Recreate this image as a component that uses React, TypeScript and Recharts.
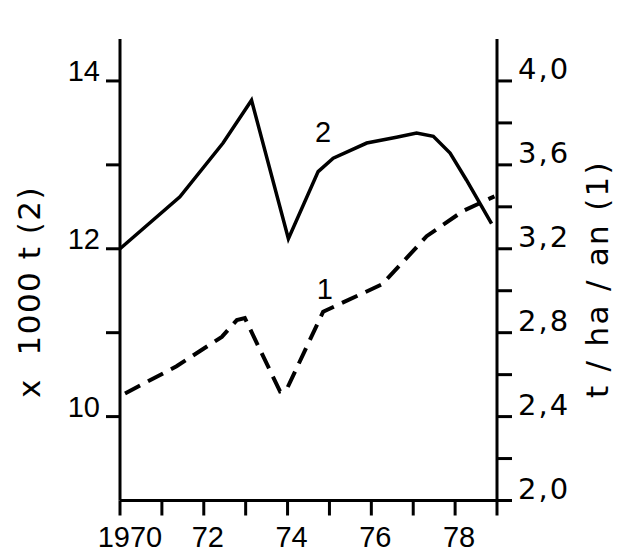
import { LineChart, Line, XAxis, YAxis, ReferenceDot } from 'recharts';

// curve 2 : production, x 1000 t (left axis)
const years2 = [1970, 1971.43, 1972.46, 1973.14, 1974.02, 1974.73, 1975.09, 1975.89, 1976.6, 1977.08, 1977.48, 1977.88, 1978.27, 1978.87];
const tonnes2 = [12.0, 12.62, 13.26, 13.77, 12.12, 12.92, 13.08, 13.26, 13.33, 13.38, 13.34, 13.14, 12.82, 12.3];

// curve 1 : yield, t / ha / an (right axis)
const years1 = [1970.12, 1971.35, 1972.43, 1972.79, 1972.98, 1973.82, 1973.98, 1974.85, 1976.25, 1977.0, 1977.32, 1978.19, 1978.94];
const yield1 = [2.51, 2.64, 2.78, 2.86, 2.87, 2.52, 2.53, 2.9, 3.03, 3.19, 3.26, 3.38, 3.45];

const yearTicks = [1970, 1971, 1972, 1973, 1974, 1975, 1976, 1977, 1978, 1979];
const leftTicks = [10, 11, 12, 13, 14];
const rightTicks = [2.0, 2.2, 2.4, 2.6, 2.8, 3.0, 3.2, 3.4, 3.6, 3.8, 4.0];

const solidData = years2.map((year, i) => ({ year, tonnes: tonnes2[i] }));
const dashedData = years1.map((year, i) => ({ year, rdt: yield1[i] }));

const txt = { fontFamily: 'Liberation Sans', fontSize: 29, fill: '#000' };
const wide = { fontFamily: 'DejaVu Sans', fontSize: 29, fill: '#000' };
const title = { fontFamily: 'DejaVu Sans', fontSize: 31, fill: '#000' };

const LeftTick = (props: any) => {
  const { x, y, payload } = props;
  if (payload.value % 2 !== 0) return <g />;
  return (
    <text x={x} y={y} textAnchor="end" {...txt}>
      {payload.value}
    </text>
  );
};

const RightTick = (props: any) => {
  const { x, y, payload } = props;
  if (Math.round(payload.value * 10) % 4 !== 0) return <g />;
  return (
    <text x={x} y={y} dy={-2} textAnchor="start" letterSpacing={2} {...wide}>
      {payload.value.toFixed(1).replace('.', ',')}
    </text>
  );
};

const YearTick = (props: any) => {
  const { x, y, payload } = props;
  const v = payload.value;
  if (v % 2 !== 0 || v > 1978) return <g />;
  return (
    <text x={x} y={y} dx={v === 1970 ? 10 : 4} dy={31} textAnchor="middle" {...txt}>
      {v === 1970 ? '1970' : String(v).slice(2)}
    </text>
  );
};

const CurveLabel = (text: string) => (props: any) => (
  <text x={props.cx} y={props.cy} textAnchor="middle" dominantBaseline="central" {...txt}>
    {text}
  </text>
);

const axisStroke = { stroke: '#000', strokeWidth: 3 };

export default function App() {
  return (
    <div style={{ position: 'fixed', left: 0, top: 0, width: 617, height: 553, background: '#fff' }}>
      <LineChart width={617} height={553} margin={{ top: 39, right: 0, bottom: 0, left: 0 }}>
        <XAxis
          dataKey="year"
          type="number"
          domain={[1970, 1979]}
          ticks={yearTicks}
          allowDataOverflow
          height={52.5}
          tickSize={15}
          tickMargin={0}
          axisLine={axisStroke}
          tickLine={axisStroke}
          tick={YearTick}
        />
        <YAxis
          yAxisId="left"
          orientation="left"
          type="number"
          domain={[9, 14.5]}
          ticks={leftTicks}
          allowDataOverflow
          width={120}
          tickSize={14}
          tickMargin={6}
          axisLine={axisStroke}
          tickLine={axisStroke}
          tick={LeftTick}
        />
        <YAxis
          yAxisId="right"
          orientation="right"
          type="number"
          domain={[2.0, 4.2]}
          ticks={rightTicks}
          allowDataOverflow
          width={120}
          tickSize={15}
          tickMargin={6}
          axisLine={axisStroke}
          tickLine={axisStroke}
          tick={RightTick}
        />
        <Line
          yAxisId="left"
          data={solidData}
          dataKey="tonnes"
          type="linear"
          stroke="#000"
          strokeWidth={3.5}
          dot={false}
          isAnimationActive={false}
        />
        <Line
          yAxisId="right"
          data={dashedData}
          dataKey="rdt"
          type="linear"
          stroke="#000"
          strokeWidth={4}
          strokeDasharray="17 9"
          dot={false}
          isAnimationActive={false}
        />
        <ReferenceDot yAxisId="left" x={1974.85} y={13.39} r={0} shape={CurveLabel('2')} />
        <ReferenceDot yAxisId="right" x={1974.89} y={3.01} r={0} shape={CurveLabel('1')} />
      </LineChart>
      <svg width={617} height={553} style={{ position: 'absolute', left: 0, top: 0, pointerEvents: 'none' }}>
        <text
          x={29}
          y={292}
          transform="rotate(-90 29 292)"
          textAnchor="middle"
          dominantBaseline="central"
          letterSpacing={1.5}
          {...title}
        >
          {'x\u00a0\u00a01000 t (2)'}
        </text>
        <text
          x={597}
          y={279}
          transform="rotate(-90 597 279)"
          textAnchor="middle"
          dominantBaseline="central"
          letterSpacing={2.3}
          {...title}
        >
          t / ha / an (1)
        </text>
      </svg>
    </div>
  );
}
